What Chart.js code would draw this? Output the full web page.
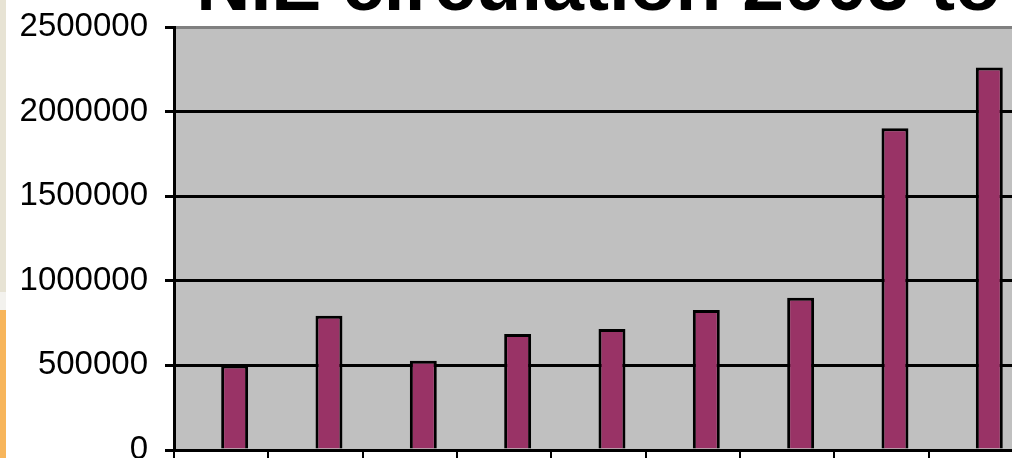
<!DOCTYPE html>
<html>
<head>
<meta charset="utf-8">
<script src="https://cdn.jsdelivr.net/npm/chart.js@4.4.1/dist/chart.umd.min.js"></script>
<style>
  html, body { margin:0; padding:0; background:#fff; overflow:hidden; }
  #wrap { position:relative; width:1012px; height:458px; overflow:hidden; }
  #chartBox { position:absolute; left:0; top:-48px; width:1030px; height:558px; }
  .strip { position:absolute; left:0; width:6px; }
</style>
</head>
<body>
<div id="wrap">
  <div id="chartBox"><canvas id="nieChart"></canvas></div>
  <div class="strip" style="top:0;height:292px;background:#e7e3d4"></div>
  <div class="strip" style="top:292px;height:18px;background:#f3f2ee"></div>
  <div class="strip" style="top:310px;height:148px;background:#f7b55b"></div>
</div>
<script>
// --- data ---
const years = ['2003','2004','2005','2006','2007','2008','2009','2010','2011'];
const emptySeries = [null,null,null,null,null,null,null,null,null];
const circulation = [500000, 793000, 528000, 685000, 715000, 827000, 900000, 1902000, 2260000];
const yTicks = [0, 500000, 1000000, 1500000, 2000000, 2500000];

const FONT = "'Liberation Sans', Arial, sans-serif";

// grey plot background like the old Excel chart
const plotBg = {
  id: 'plotBg',
  beforeDraw(chart){
    const a = chart.chartArea, ctx = chart.ctx;
    ctx.save();
    ctx.fillStyle = '#c0c0c0';
    ctx.fillRect(a.left, a.top, a.right - a.left, a.bottom - a.top);
    ctx.restore();
  }
};

const ctx = document.getElementById('nieChart').getContext('2d');
new Chart(ctx, {
  type: 'bar',
  data: {
    labels: years,
    datasets: [
      { label: 'Series 1', data: emptySeries, backgroundColor: '#9999ff' },
      { label: 'Circulation', data: circulation, backgroundColor: '#993366',
        borderColor: '#000', borderWidth: 3, borderSkipped: 'start' }
    ]
  },
  options: {
    responsive: true,
    maintainAspectRatio: false,
    animation: false,
    datasets: { bar: { categoryPercentage: 2/3.5, barPercentage: 1 } },
    layout: { padding: { top: 0, right: 7, left: 0, bottom: 0 } },
    plugins: {
      legend: { display: false },
      tooltip: { enabled: false },
      title: {
        display: true,
        text: 'NIE circulation 2003 to',
        fullSize: false,
        color: '#000',
        font: { family: FONT, size: 75, weight: 'bold', lineHeight: 1 },
        padding: { top: 0, bottom: 0 }
      }
    },
    scales: {
      x: {
        offset: true,
        grid: { display: true, drawOnChartArea: false, drawTicks: true, tickLength: 8,
                color: '#000', lineWidth: 2, offset: true },
        border: { display: true, color: '#000', width: 3 },
        ticks: { color: '#000', font: { family: FONT, size: 32 }, padding: 6 },
        afterFit(s){ s.height = 60; }
      },
      y: {
        min: 0, max: 2500000,
        afterBuildTicks(s){ s.ticks = yTicks.map(v => ({ value: v })); },
        grid: {
          color: c => (c.tick && c.tick.value === 2500000) ? '#808080' : '#000',
          tickColor: '#000', lineWidth: 3, tickLength: 9
        },
        border: { display: true, color: '#000', width: 3 },
        ticks: { color: '#000', font: { family: FONT, size: 33 }, padding: 17,
                 callback: v => String(v) },
        afterFit(s){ s.width = 174; }
      }
    }
  },
  plugins: [plotBg]
});
</script>
</body>
</html>
